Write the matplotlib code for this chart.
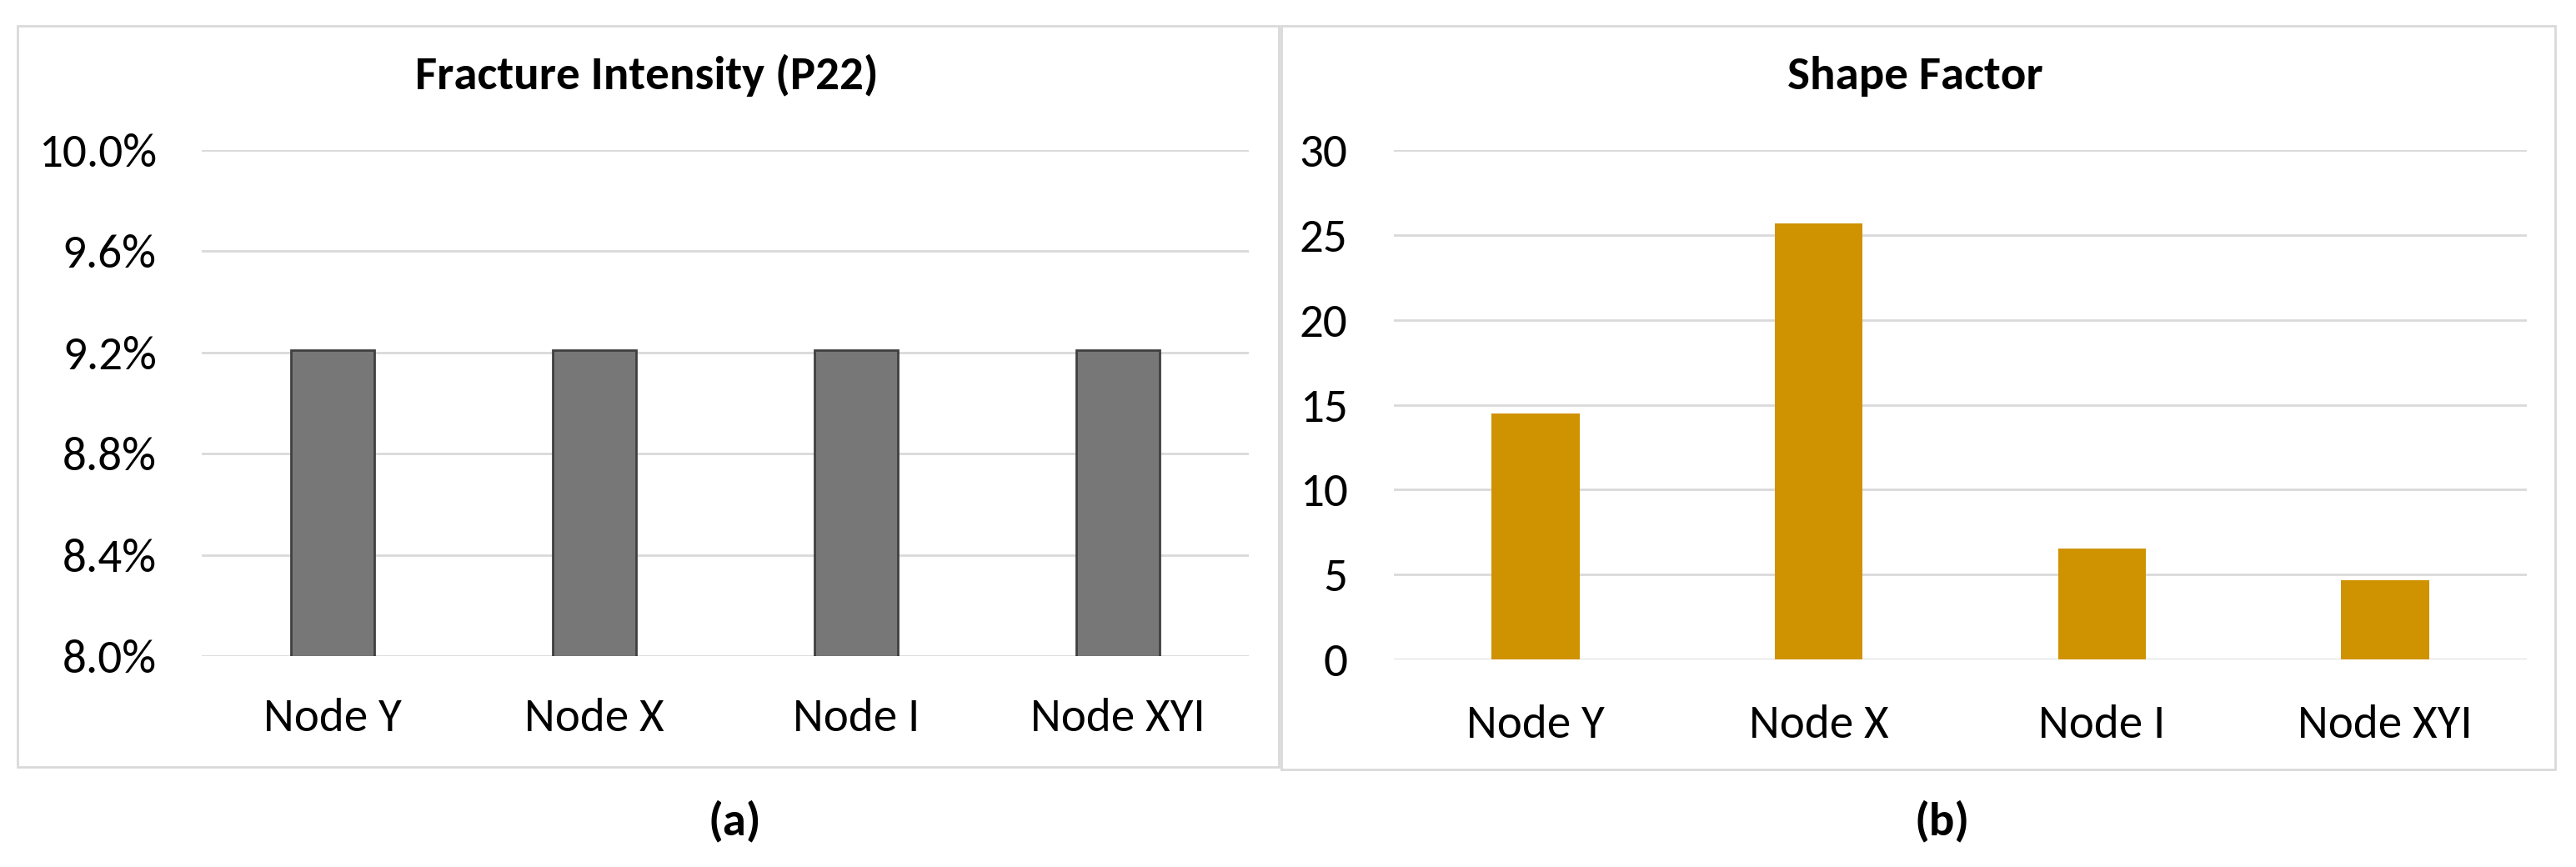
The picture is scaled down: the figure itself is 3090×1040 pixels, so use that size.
import matplotlib
matplotlib.use("Agg")
import matplotlib.pyplot as plt
from matplotlib import font_manager
from matplotlib.patches import Rectangle
from matplotlib.ticker import PercentFormatter, MultipleLocator

# ---- data ----
categories = ["Node Y", "Node X", "Node I", "Node XYI"]
fracture_intensity = [0.0921, 0.0921, 0.0921, 0.0921]
shape_factor = [14.5, 25.7, 6.55, 4.65]
title_a = "Fracture Intensity (P22)"
title_b = "Shape Factor"
panel_labels = ["(a)", "(b)"]

available = {f.name for f in font_manager.fontManager.ttflist}
fam = [f for f in ["Carlito", "Lato", "Liberation Sans"] if f in available] + ["DejaVu Sans"]
plt.rcParams["font.family"] = fam

W, H = 3090, 1040
fig = plt.figure(figsize=(W / 100, H / 100), dpi=100)

def fx(px):
    return px / W

def fy(py):
    return 1 - py / H

grid_color = "#d9d9d9"
FS = 41

# frames
for (x0, y0, x1, y1) in [(21, 31, 1534, 920), (1537, 31, 3065, 923)]:
    fig.patches.append(Rectangle((fx(x0), fy(y1)), fx(x1) - fx(x0), fy(y0) - fy(y1),
                                 transform=fig.transFigure, fill=False,
                                 edgecolor=grid_color, linewidth=2.0, zorder=0))

# left axes
axL = fig.add_axes([fx(242), fy(787), fx(1498) - fx(242), fy(180) - fy(787)])
x = range(len(categories))
axL.bar(x, fracture_intensity, width=0.32, color="#777777", edgecolor="#404040",
        linewidth=2.0, zorder=3)
axL.set_ylim(0.08, 0.10)
axL.yaxis.set_major_locator(MultipleLocator(0.004))
axL.yaxis.set_major_formatter(PercentFormatter(xmax=1, decimals=1))
axL.set_xlim(-0.5, 3.5)
axL.set_xticks(list(x))
axL.set_xticklabels(categories)
axL.tick_params(axis="y", length=0, labelsize=FS, pad=39)
axL.tick_params(axis="x", length=0, labelsize=FS, pad=36)

# right axes
axR = fig.add_axes([fx(1672), fy(791), fx(3031) - fx(1672), fy(180) - fy(791)])
axR.bar(x, shape_factor, width=0.31, color="#CF9200", zorder=3)
axR.set_ylim(0, 30)
axR.yaxis.set_major_locator(MultipleLocator(5))
axR.set_xlim(-0.5, 3.5)
axR.set_xticks(list(x))
axR.set_xticklabels(categories)
axR.tick_params(axis="y", length=0, labelsize=FS, pad=40)
axR.tick_params(axis="x", length=0, labelsize=FS, pad=39)

for ax in (axL, axR):
    for s in ax.spines.values():
        s.set_visible(False)
    ax.grid(axis="y", color=grid_color, linewidth=2.0, zorder=0)
    ax.set_axisbelow(True)
    ax.set_facecolor("none")

# titles
fig.text(fx(776), fy(107), title_a, ha="center", va="baseline",
         fontsize=FS, fontweight="bold")
fig.text(fx(2297), fy(107), title_b, ha="center", va="baseline",
         fontsize=FS, fontweight="bold")

# panel labels
fig.text(fx(881), fy(985), panel_labels[0], ha="center", va="center",
         fontsize=FS, fontweight="bold")
fig.text(fx(2330), fy(985), panel_labels[1], ha="center", va="center",
         fontsize=FS, fontweight="bold")

fig.savefig("out.png", dpi=100, facecolor="white")
